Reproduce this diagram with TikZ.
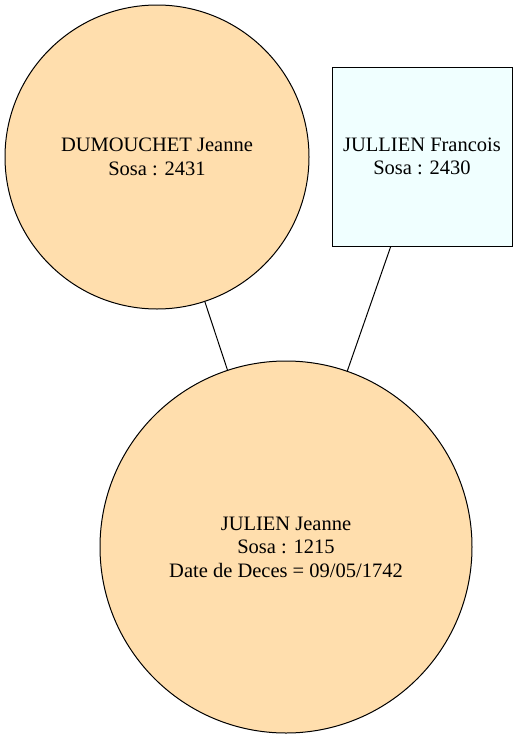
\documentclass[tikz,border=0pt]{standalone}
\usepackage{fontspec}
\setmainfont{Liberation Serif}
\definecolor{navajo}{HTML}{FFDEAD}
\definecolor{azurebox}{HTML}{F0FFFF}
\begin{document}
\begin{tikzpicture}[x=1pt,y=-1pt,
  person/.style={circle,draw=black,line width=1pt,fill=navajo,inner sep=0pt,align=center,font=\fontsize{20.5}{23.5}\selectfont},
  personbox/.style={rectangle,draw=black,line width=1pt,fill=azurebox,inner sep=0pt,align=center,font=\fontsize{20.5}{23.5}\selectfont},
  link/.style={draw=black,line width=1pt}]
\useasboundingbox[fill=white] (0,0) rectangle (518,739);
\node[person,minimum size=304pt] (dum) at (157,157) {DUMOUCHET Jeanne\\Sosa : 2431};
\node[personbox,minimum width=180pt,minimum height=179pt] (jf) at (422,156.5) {JULLIEN Francois\\Sosa : 2430};
\node[person,minimum size=372pt] (jj) at (286,547) {JULIEN Jeanne\\Sosa : 1215\\Date de Deces = 09/05/1742};
\draw[link] (dum) -- (jj);
\draw[link] (jf) -- (jj);
\end{tikzpicture}
\end{document}
